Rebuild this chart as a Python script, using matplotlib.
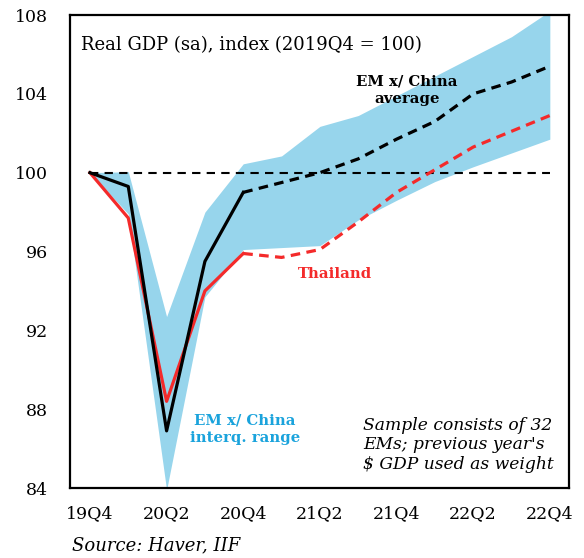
import matplotlib
matplotlib.use("Agg")
import matplotlib.pyplot as plt

plt.rcParams['font.family'] = ['DejaVu Serif']

quarters = ['19Q4', '20Q1', '20Q2', '20Q3', '20Q4', '21Q1', '21Q2',
            '21Q3', '21Q4', '22Q1', '22Q2', '22Q3', '22Q4']
tick_labels = ['19Q4', '20Q2', '20Q4', '21Q2', '21Q4', '22Q2', '22Q4']

em_avg = [100.0, 99.3, 86.9, 95.5, 99.0, 99.5, 100.0,
          100.7, 101.7, 102.6, 104.0, 104.6, 105.4]
thailand = [100.0, 97.7, 88.4, 94.0, 95.9, 95.7, 96.1,
            97.5, 99.0, 100.15, 101.3, 102.1, 102.9]
iqr_high = [100.0, 100.05, 92.7, 98.0, 100.45, 100.85, 102.35,
            102.9, 103.9, 104.9, 105.9, 106.9, 108.2]
iqr_low = [100.0, 97.9, 83.9, 93.7, 96.1, 96.2, 96.3,
           97.6, 98.6, 99.55, 100.3, 101.0, 101.7]

n_actual = 5  # 19Q4..20Q4 are outturns, the rest forecasts
x = list(range(len(quarters)))

fig = plt.figure(figsize=(5.84, 5.58), dpi=100)
ax = fig.add_axes([0.1199, 0.1254, 0.8544, 0.8477])

ax.fill_between(x, iqr_low, iqr_high, color='#97d5ec', lw=0, zorder=1)
ax.plot([x[0], x[-1]], [100, 100], color='black', lw=1.5, ls=(0, (4, 3)), zorder=2)

red = '#f42a2a'
ax.plot(x[:n_actual], thailand[:n_actual], color=red, lw=2.3, zorder=3)
ax.plot(x[n_actual - 1:], thailand[n_actual - 1:], color=red, lw=2.3,
        ls=(0, (3, 2)), zorder=3)
ax.plot(x[:n_actual], em_avg[:n_actual], color='black', lw=2.3, zorder=4)
ax.plot(x[n_actual - 1:], em_avg[n_actual - 1:], color='black', lw=2.3,
        ls=(0, (3, 2)), zorder=4)

ax.set_xlim(-0.52, 12.5)
ax.set_ylim(84, 108)
ax.set_yticks([84, 88, 92, 96, 100, 104, 108])
ax.set_xticks(x[::2])
ax.set_xticklabels(tick_labels)
ax.tick_params(length=0, labelsize=12.5, pad=12)
ax.tick_params(axis='y', pad=16)
for s in ax.spines.values():
    s.set_linewidth(1.6)

ax.text(0.022, 0.955, 'Real GDP (sa), index (2019Q4 = 100)', transform=ax.transAxes,
        fontsize=13, va='top', ha='left')
ax.text(8.27, 104.2, 'EM x/ China\naverage', fontsize=10.7, fontweight='bold',
        ha='center', va='center', linespacing=1.3)
ax.text(6.39, 94.87, 'Thailand', fontsize=10.7, fontweight='bold', color=red,
        ha='center', va='center')
ax.text(4.05, 87.0, 'EM x/ China\ninterq. range', fontsize=10.7, fontweight='bold',
        color='#1aa3dc', ha='center', va='center', linespacing=1.3)
ax.text(7.12, 86.2, "Sample consists of 32\nEMs; previous year's\n$ GDP used as weight",
        fontsize=12.3, style='italic', ha='left', va='center', linespacing=1.2)

fig.text(0.123, 0.023, 'Source: Haver, IIF', fontsize=13, style='italic',
         ha='left', va='center')

fig.savefig('out.png', dpi=100)
